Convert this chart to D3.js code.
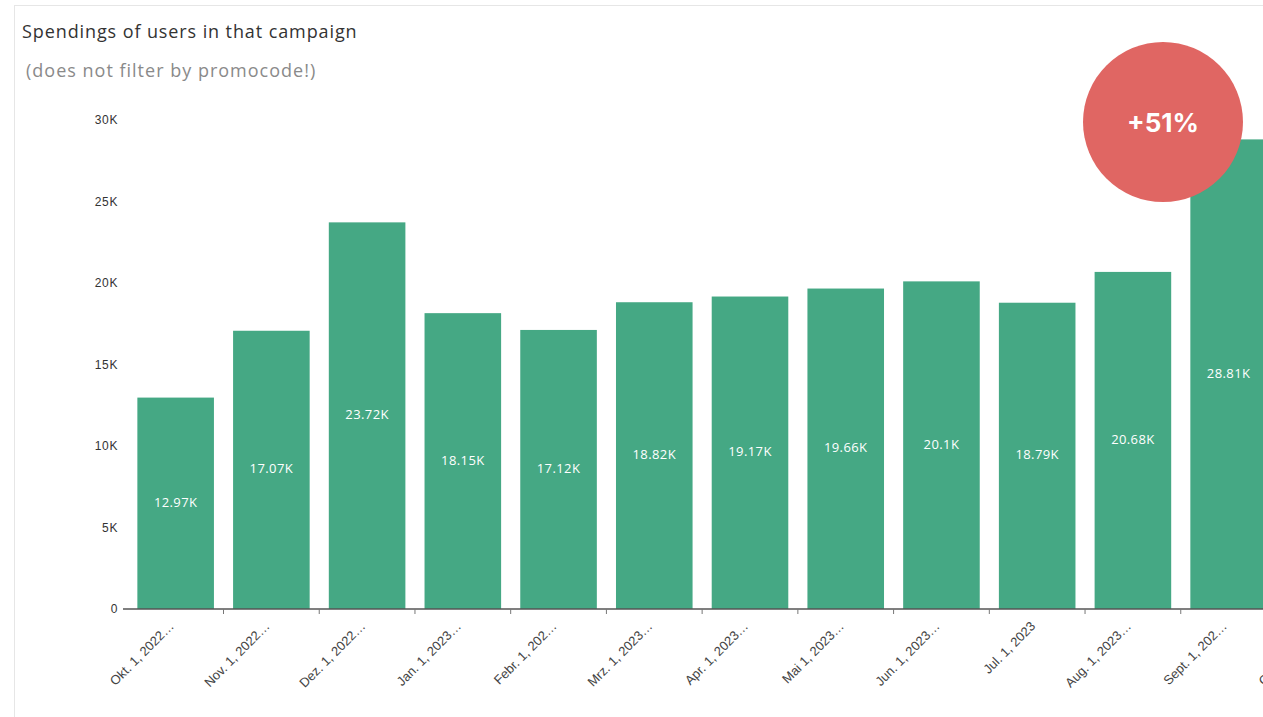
<!DOCTYPE html>
<html>
<head>
<meta charset="utf-8">
<script src="https://cdn.jsdelivr.net/npm/d3@7"></script>
<style>
  html, body { margin: 0; padding: 0; background: #fff; overflow: hidden; }
  svg { display: block; font-family: "Open Sans", "Noto Sans", sans-serif; }
  .title { font-size: 18px; fill: #333; font-weight: 500; letter-spacing: 0.9px; }
  .subtitle { font-size: 18px; fill: #8a8a8a; letter-spacing: 1px; }
  .y-axis text { font-size: 12px; fill: #333; letter-spacing: 0.6px; }
  .x-axis text { font-size: 13px; fill: #444; }
  .bar-label { font-size: 13px; fill: #fff; letter-spacing: 0.4px; }
  .badge-text { font-family: "Inter", "Lato", sans-serif; font-weight: 700; font-size: 26px; fill: #fff; }
</style>
</head>
<body>
<div id="chart"></div>
<script>
// months shown on the x axis (last one is cut off at the right edge)
const months = [
  "Okt. 1, 2022…", "Nov. 1, 2022…", "Dez. 1, 2022…", "Jan. 1, 2023…",
  "Febr. 1, 202…", "Mrz. 1, 2023…", "Apr. 1, 2023…", "Mai 1, 2023…",
  "Jun. 1, 2023…", "Jul. 1, 2023", "Aug. 1, 2023…", "Sept. 1, 202…",
  "Okt. 1, 2023…"
];
// spendings per month (the last bar is outside the visible area)
const spendings = [
  12970, 17070, 23720, 18150, 17120, 18820, 19170,
  19660, 20100, 18790, 20680, 28810, null
];
const yTicks = [0, 5000, 10000, 15000, 20000, 25000, 30000];
const badgeText = "+51%";

const W = 1263, H = 717;
const svg = d3.select("#chart").append("svg")
  .attr("width", W).attr("height", H);

// panel frame
svg.append("line").attr("x1", 14).attr("x2", W).attr("y1", 5.5).attr("y2", 5.5)
  .attr("stroke", "#e6e6e6");
svg.append("line").attr("x1", 14.5).attr("x2", 14.5).attr("y1", 5).attr("y2", H)
  .attr("stroke", "#e6e6e6");

svg.append("text").attr("class", "title").attr("x", 22).attr("y", 38)
  .text("Spendings of users in that campaign");
svg.append("text").attr("class", "subtitle").attr("x", 26).attr("y", 77)
  .text("(does not filter by promocode!)");

const x = d3.scaleBand().domain(months)
  .range([123, 1377]).paddingInner(0.2).paddingOuter(0.15);
const y = d3.scaleLinear().domain([0, 30000]).range([609, 120]);

// y axis (labels only)
const yAxis = svg.append("g").attr("class", "y-axis")
  .attr("transform", "translate(118,0)")
  .call(d3.axisLeft(y).tickValues(yTicks).tickSize(0).tickPadding(0)
    .tickFormat(d => d === 0 ? "0" : d / 1000 + "K"));
yAxis.select(".domain").remove();

const data = months.map((m, i) => ({ month: m, value: spendings[i] }));

// bars
svg.selectAll(".bar").data(data.filter(d => d.value != null)).enter()
  .append("rect").attr("class", "bar")
  .attr("x", d => x(d.month))
  .attr("width", x.bandwidth())
  .attr("y", d => y(d.value))
  .attr("height", d => y(0) - y(d.value))
  .attr("fill", "#45a884");

svg.selectAll(".bar-label").data(data.filter(d => d.value != null)).enter()
  .append("text").attr("class", "bar-label")
  .attr("x", d => x(d.month) + x.bandwidth() / 2)
  .attr("y", d => (y(d.value) + y(0)) / 2)
  .attr("text-anchor", "middle")
  .attr("dominant-baseline", "middle")
  .text(d => d3.format(".4~s")(d.value).replace("k", "K"));

// x axis
const xAxis = svg.append("g").attr("class", "x-axis")
  .attr("transform", "translate(0,609)")
  .call(d3.axisBottom(x).tickSize(0).tickPadding(0));
xAxis.select(".domain").attr("stroke", "#555").attr("stroke-width", 1.5)
  .attr("d", `M123,0H${W}`);
xAxis.selectAll(".tick text")
  .attr("text-anchor", "end")
  .attr("dy", 0)
  .attr("transform", "translate(-1,18) rotate(-45)");

// small separator ticks between bands
svg.append("g").selectAll("line").data(months.slice(1)).enter()
  .append("line")
  .attr("x1", d => x(d) - x.step() * x.paddingInner() / 2)
  .attr("x2", d => x(d) - x.step() * x.paddingInner() / 2)
  .attr("y1", 609).attr("y2", 614)
  .attr("stroke", "#777");

// highlight badge
const badge = svg.append("g").attr("transform", "translate(1163,122)");
badge.append("circle").attr("r", 80).attr("fill", "#e06663");
badge.append("text").attr("class", "badge-text")
  .attr("text-anchor", "middle").attr("dominant-baseline", "central")
  .text(badgeText);
</script>
</body>
</html>
